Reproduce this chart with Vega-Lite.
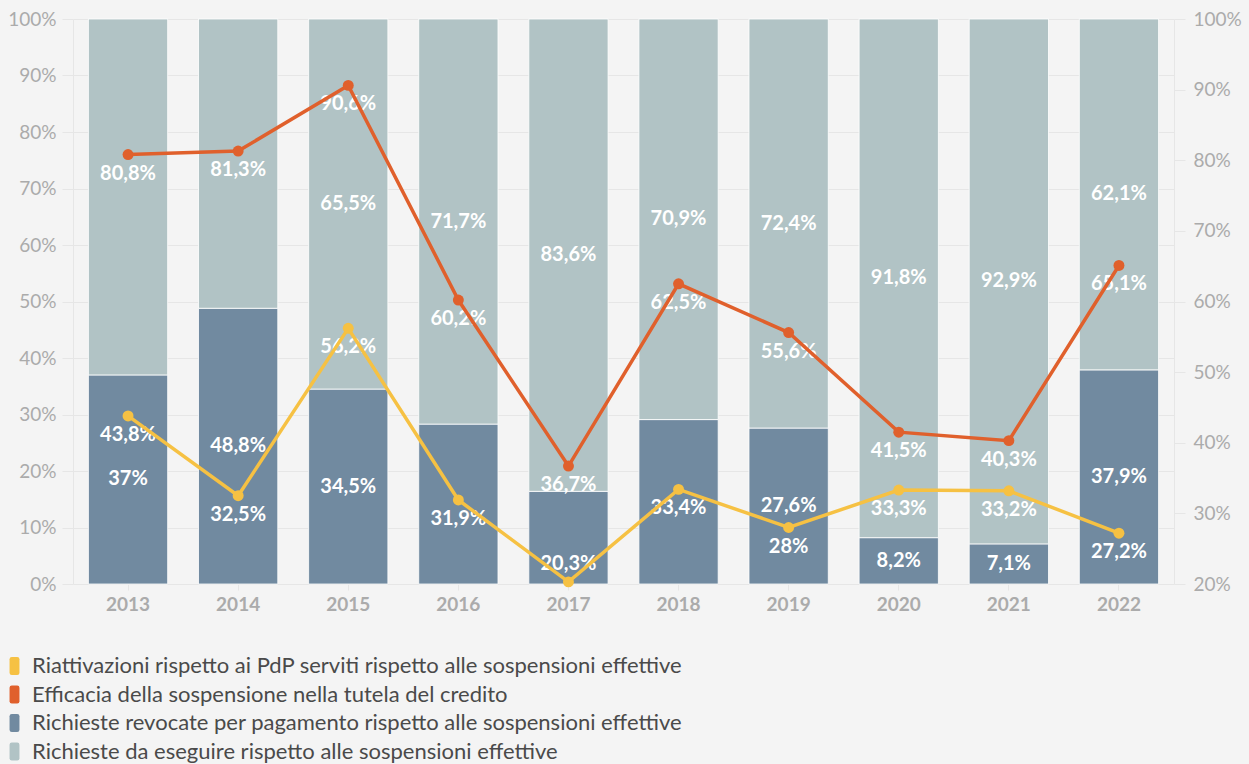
{
  "$schema": "https://vega.github.io/schema/vega-lite/v6.json",
  "width": 1101,
  "height": 565,
  "autosize": {"type": "none"},
  "padding": {"left": 73, "top": 19, "right": 75, "bottom": 180},
  "background": "#f4f4f4",
  "config": {
    "locale": {"number": {"decimal": ",", "thousands": ".", "grouping": [3], "currency": ["€", ""]}},
    "font": "Lato",
    "view": {"stroke": null},
    "axis": {"labelFont": "Lato", "labelColor": "#ababab", "labelFontSize": 19, "gridColor": "#e6e6e6", "domainColor": "#e6e6e6", "tickColor": "#e6e6e6", "titleFont": "Lato", "labelOverlap": false}
  },
  "datasets": {
    "bars": [
      {"year": "2013", "series": "Richieste revocate per pagamento rispetto alle sospensioni effettive", "value": 0.37},
      {"year": "2013", "series": "Richieste da eseguire rispetto alle sospensioni effettive", "value": 0.63},
      {"year": "2014", "series": "Richieste revocate per pagamento rispetto alle sospensioni effettive", "value": 0.488},
      {"year": "2014", "series": "Richieste da eseguire rispetto alle sospensioni effettive", "value": 0.512},
      {"year": "2015", "series": "Richieste revocate per pagamento rispetto alle sospensioni effettive", "value": 0.345},
      {"year": "2015", "series": "Richieste da eseguire rispetto alle sospensioni effettive", "value": 0.655},
      {"year": "2016", "series": "Richieste revocate per pagamento rispetto alle sospensioni effettive", "value": 0.283},
      {"year": "2016", "series": "Richieste da eseguire rispetto alle sospensioni effettive", "value": 0.717},
      {"year": "2017", "series": "Richieste revocate per pagamento rispetto alle sospensioni effettive", "value": 0.164},
      {"year": "2017", "series": "Richieste da eseguire rispetto alle sospensioni effettive", "value": 0.836},
      {"year": "2018", "series": "Richieste revocate per pagamento rispetto alle sospensioni effettive", "value": 0.291},
      {"year": "2018", "series": "Richieste da eseguire rispetto alle sospensioni effettive", "value": 0.709},
      {"year": "2019", "series": "Richieste revocate per pagamento rispetto alle sospensioni effettive", "value": 0.276},
      {"year": "2019", "series": "Richieste da eseguire rispetto alle sospensioni effettive", "value": 0.724},
      {"year": "2020", "series": "Richieste revocate per pagamento rispetto alle sospensioni effettive", "value": 0.082},
      {"year": "2020", "series": "Richieste da eseguire rispetto alle sospensioni effettive", "value": 0.918},
      {"year": "2021", "series": "Richieste revocate per pagamento rispetto alle sospensioni effettive", "value": 0.071},
      {"year": "2021", "series": "Richieste da eseguire rispetto alle sospensioni effettive", "value": 0.929},
      {"year": "2022", "series": "Richieste revocate per pagamento rispetto alle sospensioni effettive", "value": 0.379},
      {"year": "2022", "series": "Richieste da eseguire rispetto alle sospensioni effettive", "value": 0.621}
    ],
    "lines": [
      {"year": "2013", "series": "Efficacia della sospensione nella tutela del credito", "value": 0.808},
      {"year": "2014", "series": "Efficacia della sospensione nella tutela del credito", "value": 0.813},
      {"year": "2015", "series": "Efficacia della sospensione nella tutela del credito", "value": 0.906},
      {"year": "2016", "series": "Efficacia della sospensione nella tutela del credito", "value": 0.602},
      {"year": "2017", "series": "Efficacia della sospensione nella tutela del credito", "value": 0.367},
      {"year": "2018", "series": "Efficacia della sospensione nella tutela del credito", "value": 0.625},
      {"year": "2019", "series": "Efficacia della sospensione nella tutela del credito", "value": 0.556},
      {"year": "2020", "series": "Efficacia della sospensione nella tutela del credito", "value": 0.415},
      {"year": "2021", "series": "Efficacia della sospensione nella tutela del credito", "value": 0.403},
      {"year": "2022", "series": "Efficacia della sospensione nella tutela del credito", "value": 0.651},
      {"year": "2013", "series": "Riattivazioni rispetto ai PdP serviti rispetto alle sospensioni effettive", "value": 0.438},
      {"year": "2014", "series": "Riattivazioni rispetto ai PdP serviti rispetto alle sospensioni effettive", "value": 0.325},
      {"year": "2015", "series": "Riattivazioni rispetto ai PdP serviti rispetto alle sospensioni effettive", "value": 0.562},
      {"year": "2016", "series": "Riattivazioni rispetto ai PdP serviti rispetto alle sospensioni effettive", "value": 0.319},
      {"year": "2017", "series": "Riattivazioni rispetto ai PdP serviti rispetto alle sospensioni effettive", "value": 0.203},
      {"year": "2018", "series": "Riattivazioni rispetto ai PdP serviti rispetto alle sospensioni effettive", "value": 0.334},
      {"year": "2019", "series": "Riattivazioni rispetto ai PdP serviti rispetto alle sospensioni effettive", "value": 0.28},
      {"year": "2020", "series": "Riattivazioni rispetto ai PdP serviti rispetto alle sospensioni effettive", "value": 0.333},
      {"year": "2021", "series": "Riattivazioni rispetto ai PdP serviti rispetto alle sospensioni effettive", "value": 0.332},
      {"year": "2022", "series": "Riattivazioni rispetto ai PdP serviti rispetto alle sospensioni effettive", "value": 0.272}
    ]
  },
  "encoding": {
    "x": {
      "field": "year", "type": "ordinal",
      "scale": {"paddingInner": 0.28, "paddingOuter": 0.14},
      "axis": {"title": null, "labelAngle": 0, "labelFontWeight": "bold", "labelPadding": 5, "tickSize": 6, "domain": false, "grid": false}
    }
  },
  "layer": [
    {
      "layer": [
        {
          "data": {"name": "bars"},
          "mark": {"type": "bar", "stroke": "#ffffff", "strokeWidth": 1, "strokeOpacity": 0.8},
          "encoding": {
            "y": {"field": "value", "type": "quantitative", "stack": "zero", "scale": {"domain": [0, 1], "nice": false},
              "axis": {"title": null, "format": "~%", "values": [0, 0.1, 0.2, 0.3, 0.4, 0.5, 0.6, 0.7, 0.8, 0.9, 1], "grid": true, "tickSize": 11, "labelPadding": 6, "domain": true}},
            "color": {
              "field": "series", "type": "nominal",
              "scale": {
                "domain": ["Riattivazioni rispetto ai PdP serviti rispetto alle sospensioni effettive", "Efficacia della sospensione nella tutela del credito", "Richieste revocate per pagamento rispetto alle sospensioni effettive", "Richieste da eseguire rispetto alle sospensioni effettive"],
                "range": ["#f6c143", "#e0602c", "#718aa0", "#b1c3c5"]
              },
              "legend": {
                "title": null, "orient": "none", "legendX": -69.5, "legendY": 636, "direction": "vertical",
                "labelFont": "Lato", "labelFontSize": 22, "labelColor": "#4a4a4a", "labelLimit": 900, "labelOffset": 6.5,
                "symbolType": "M-0.55,-0.75Q-0.55,-1,-0.3,-1L0.3,-1Q0.55,-1,0.55,-0.75L0.55,0.75Q0.55,1,0.3,1L-0.3,1Q-0.55,1,-0.55,0.75Z",
                "symbolSize": 324, "symbolStrokeWidth": 0, "symbolOpacity": 1, "rowPadding": 6.5, "padding": 0
              }
            },
            "order": {"field": "series", "sort": "descending"}
          }
        },
        {
          "data": {"name": "bars"},
          "transform": [
            {"stack": "value", "groupby": ["year"], "sort": [{"field": "series", "order": "descending"}], "as": ["v0", "v1"]},
            {"calculate": "(datum.v0 + datum.v1) / 2", "as": "mid"},
            {"filter": "!(((datum.year=='2013'||datum.year=='2014') && datum.value>0.5) || ((datum.year=='2016'||datum.year=='2017'||datum.year=='2018') && datum.value<0.3))"}
          ],
          "mark": {"type": "text", "color": "#ffffff", "fontWeight": "bold", "fontSize": 20, "font": "Lato", "baseline": "middle"},
          "encoding": {
            "y": {"field": "mid", "type": "quantitative",
              "axis": {"title": null, "format": "~%", "values": [0, 0.1, 0.2, 0.3, 0.4, 0.5, 0.6, 0.7, 0.8, 0.9, 1], "grid": true, "tickSize": 11, "labelPadding": 6, "domain": true}},
            "text": {"field": "value", "type": "quantitative", "format": ".1~%"}
          }
        }
      ]
    },
    {
      "data": {"name": "lines"},
      "encoding": {
        "y": {"field": "value", "type": "quantitative", "scale": {"domain": [0.2, 1], "nice": false},
          "axis": {"orient": "right", "title": null, "format": "~%", "values": [0.2, 0.3, 0.4, 0.5, 0.6, 0.7, 0.8, 0.9, 1], "grid": false, "tickSize": 11, "labelPadding": 8, "domain": true}}
      },
      "layer": [
        {
          "transform": [{"filter": "datum.value >= 0.25"}],
          "mark": {"type": "text", "color": "#ffffff", "fontWeight": "bold", "fontSize": 20, "font": "Lato", "baseline": "middle", "dy": 19},
          "encoding": {"text": {"field": "value", "type": "quantitative", "format": ".1~%"}}
        },
        {
          "transform": [{"filter": "datum.value < 0.25"}],
          "mark": {"type": "text", "color": "#ffffff", "fontWeight": "bold", "fontSize": 20, "font": "Lato", "baseline": "middle", "dy": -18},
          "encoding": {"text": {"field": "value", "type": "quantitative", "format": ".1~%"}}
        },
        {
          "mark": {"type": "line", "strokeWidth": 3.5},
          "encoding": {
            "color": {"field": "series", "type": "nominal", "legend": null},
            "detail": {"field": "series"}
          }
        },
        {
          "mark": {"type": "point", "filled": true, "opacity": 1, "size": 120},
          "encoding": {
            "color": {"field": "series", "type": "nominal", "legend": null}
          }
        }
      ]
    }
  ],
  "resolve": {"scale": {"y": "independent"}, "axis": {"y": "independent"}}
}
